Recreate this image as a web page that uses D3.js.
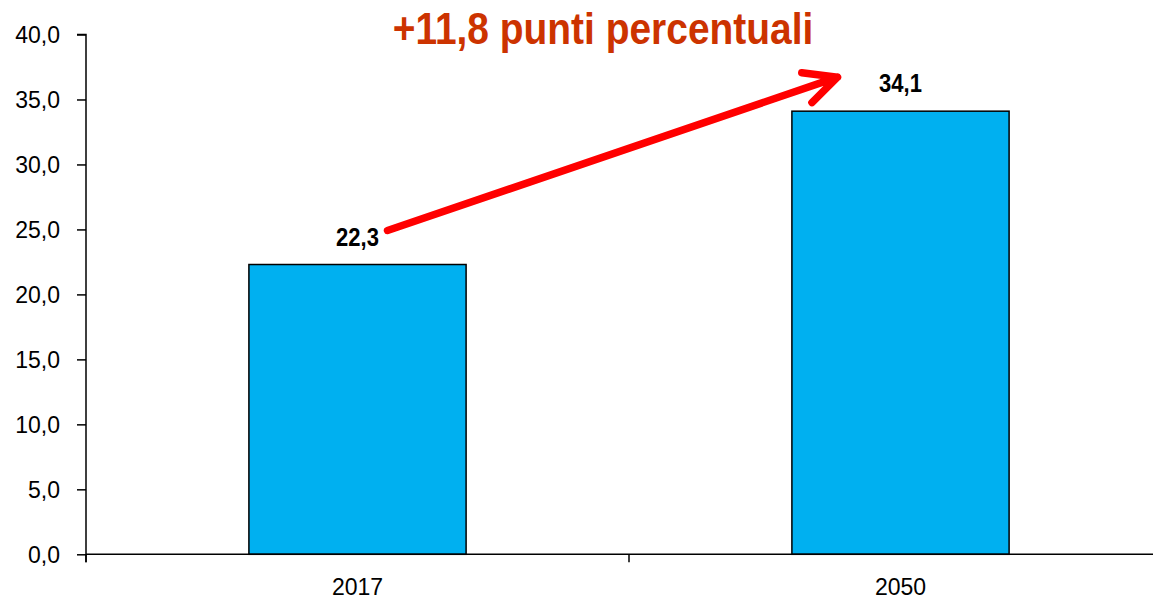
<!DOCTYPE html>
<html><head><meta charset="utf-8">
<script src="https://cdn.jsdelivr.net/npm/d3@7"></script>
<style>body{margin:0;background:#fff}svg{display:block}</style>
</head><body>
<svg id="c" width="1153" height="602"></svg>
<script>
const categories = ["2017", "2050"];
const values = [22.3, 34.1];
const yTicks = [0, 5, 10, 15, 20, 25, 30, 35, 40];
const title = "+11,8 punti percentuali";

const fmt = v => d3.format(".1f")(v).replace(".", ",");
const FONT = "'Liberation Sans', Arial, sans-serif";
const svg = d3.select("#c");
const x = d3.scaleBand().domain(categories).range([86, 1172]).paddingInner(0.6).paddingOuter(0.3);
const y = d3.scaleLinear().domain([0, 40]).range([554.3, 34.5]);
const step = x.step();
const x0 = x.range()[0];

// bars
svg.selectAll("rect.bar").data(values).join("rect")
  .attr("x", (d, i) => x(categories[i]))
  .attr("y", d => y(d))
  .attr("width", x.bandwidth())
  .attr("height", d => y(0) - y(d))
  .attr("fill", "#00B0F0").attr("stroke", "#000").attr("stroke-width", 1.5);

// y axis
const ya = svg.append("g").attr("transform", `translate(${x0},0)`)
  .call(d3.axisLeft(y).tickValues(yTicks).tickSize(9).tickPadding(17).tickFormat(fmt));
ya.select(".domain").attr("stroke", "#000").attr("stroke-width", 1.5).attr("d", `M-9,${y(40)}H0V${y(0)+8}`);
ya.selectAll(".tick line").attr("stroke", "#000").attr("stroke-width", 1.5);
ya.selectAll(".tick text").attr("font-family", FONT).attr("font-size", 23).attr("fill", "#000").attr("dy", "0.34em");

// x axis line and boundary ticks
svg.append("line").attr("x1", x0).attr("x2", 1153).attr("y1", y(0)).attr("y2", y(0)).attr("stroke", "#000").attr("stroke-width", 1.5);
const bounds = d3.range(categories.length + 1).map(i => x0 + i * step);
svg.selectAll("line.xt").data(bounds).join("line")
  .attr("x1", d => d).attr("x2", d => d).attr("y1", y(0)).attr("y2", y(0) + 8)
  .attr("stroke", "#000").attr("stroke-width", 1.5);
svg.selectAll("text.xl").data(categories).join("text")
  .attr("x", d => x(d) + x.bandwidth() / 2).attr("y", 595)
  .attr("text-anchor", "middle").attr("font-family", FONT).attr("font-size", 23).text(d => d);

// value labels (condensed bold)
svg.selectAll("text.vl").data(values).join("text")
  .attr("transform", (d, i) => `translate(${x(categories[i]) + x.bandwidth() / 2},${y(d) - 19}) scale(0.88,1)`)
  .attr("text-anchor", "middle").attr("font-family", FONT)
  .attr("font-weight", "bold").attr("font-size", 25).text(fmt);

// arrow
const cx = i => x(categories[i]) + x.bandwidth() / 2;
const sx = cx(0) + 30, sy = y(values[0]) - 34;
const ex = cx(1) - 63, ey = y(values[1]) - 34;
const ang = Math.atan2(ey - sy, ex - sx);
const L = 36, a = 26 * Math.PI / 180;
const back = ang + Math.PI;
const p1 = [ex + L * Math.cos(back - a), ey + L * Math.sin(back - a)];
const p2 = [ex + L * Math.cos(back + a), ey + L * Math.sin(back + a)];
svg.append("path")
  .attr("d", `M${sx},${sy}L${ex},${ey}M${p1[0]},${p1[1]}L${ex},${ey}L${p2[0]},${p2[1]}`)
  .attr("fill", "none").attr("stroke", "#FF0000").attr("stroke-width", 7.5)
  .attr("stroke-linecap", "round").attr("stroke-linejoin", "round");

// title (condensed bold)
svg.append("text").attr("transform", "translate(603,44) scale(0.865,1)").attr("text-anchor", "middle")
  .attr("font-family", FONT).attr("font-weight", "bold")
  .attr("font-size", 45).attr("fill", "#CC3300").text(title);
</script>
</body></html>
